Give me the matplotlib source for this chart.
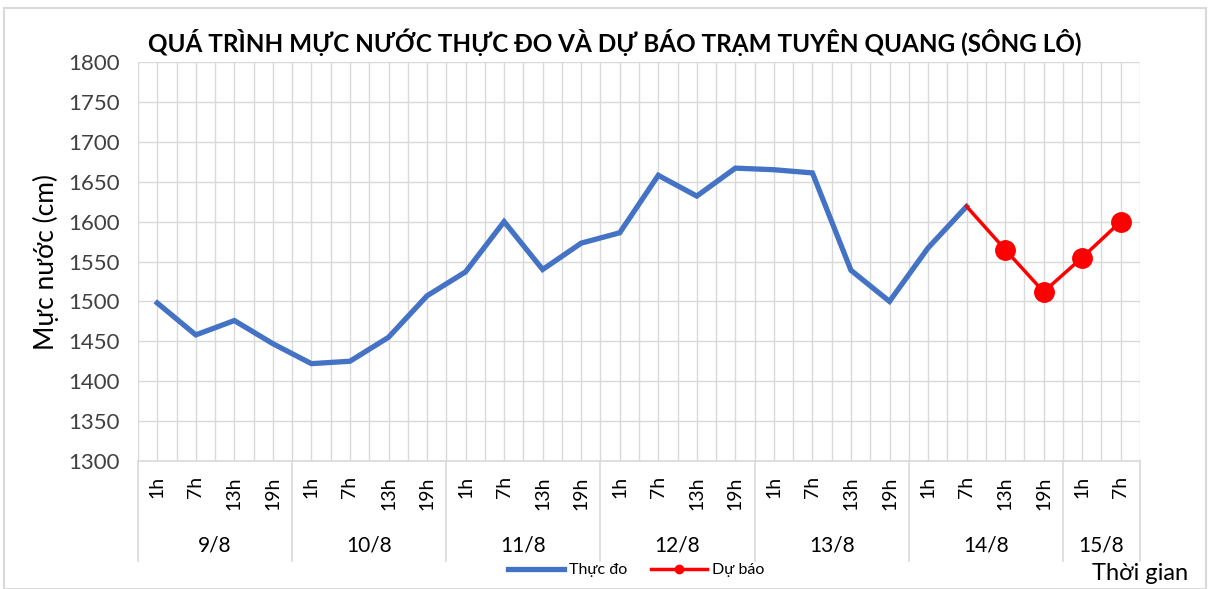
import numpy as np
import matplotlib.pyplot as plt
from matplotlib.patches import Rectangle
from matplotlib.lines import Line2D
import matplotlib.transforms as mtransforms

plt.rcParams['font.family'] = ['Lato', 'DejaVu Sans']

# category axis: hours grouped by day
hours = ["1h", "7h", "13h", "19h"] * 6 + ["1h", "7h"]
days = ["9/8", "10/8", "11/8", "12/8", "13/8", "14/8", "15/8"]
day_sizes = [4, 4, 4, 4, 4, 4, 2]

# observed water level (cm), 9/8 1h .. 14/8 7h
observed = [1498, 1458, 1476, 1447,
            1422, 1425, 1455, 1507,
            1537, 1600, 1540, 1573,
            1586, 1658, 1632, 1667,
            1665, 1661, 1539, 1500,
            1567, 1619]
# forecast, starts at last observed point (14/8 7h)
forecast = [1619, 1565, 1512, 1555, 1600]

n = len(hours)
x = np.arange(n)
x_obs = x[:len(observed)]
x_fc = x[len(observed) - 1:len(observed) - 1 + len(forecast)]

fig = plt.figure(figsize=(12.12, 5.89), dpi=100)
ax = fig.add_axes([138/1212, 128/589, (1140-138)/1212, (461-62)/589])

blue = '#4472C4'
red = '#FF0000'
grid_c = '#d9d9d9'

ax.plot(x_obs, observed, color=blue, lw=3.8, solid_joinstyle='miter', zorder=3)
ax.plot(x_fc, forecast, color=red, lw=2.5, marker='o', markersize=14,
        markevery=list(range(1, len(forecast))), zorder=4)

ax.set_xlim(-0.5, n - 0.5)
ax.set_ylim(1300, 1800)
ax.set_yticks(np.arange(1300, 1801, 50))
ax.set_xticks(x)
ax.set_xticks(np.arange(-0.5, n, 1.0), minor=True)
ax.grid(True, which='major', axis='both', color=grid_c, lw=1.0, zorder=0)
ax.grid(True, which='minor', axis='x', color=grid_c, lw=1.0, zorder=0)
ax.set_axisbelow(True)

for s in ['top', 'right', 'left']:
    ax.spines[s].set_visible(False)
ax.spines['bottom'].set_color(grid_c)
ax.spines['bottom'].set_linewidth(1.2)

ax.tick_params(axis='y', length=0, labelsize=16, colors='#404040', pad=13)
ax.tick_params(axis='x', which='both', length=0)
ax.set_xticklabels(hours, rotation=90, fontsize=14, color='black', va='top')
ax.tick_params(axis='x', pad=11)

# day group labels and separators below the axis
trans = mtransforms.blended_transform_factory(ax.transData, ax.transAxes)
start = -0.5
bounds = [start]
for d, sz in zip(days, day_sizes):
    mid = start + sz / 2
    ax.text(mid, -0.212, d, transform=trans, ha='center', va='center', fontsize=15)
    start += sz
    bounds.append(start)
for b in bounds:
    ax.add_line(Line2D([b, b], [0, -0.25], transform=trans, color=grid_c,
                       lw=1.2, clip_on=False))

ax.set_ylabel('Mực nước (cm)', fontsize=19, labelpad=7)
fig.text(615/1212, 1 - 42/589, 'QUÁ TRÌNH MỰC NƯỚC THỰC ĐO VÀ DỰ BÁO TRẠM TUYÊN QUANG (SÔNG LÔ)',
         ha='center', va='center', fontsize=17.5, fontweight='bold')
fig.text(1140/1212, 1 - 573/589, 'Thời gian', ha='center', va='center', fontsize=17)

leg_handles = [Line2D([], [], color=blue, lw=3.8),
               Line2D([], [], color=red, lw=2.5, marker='o', markersize=6)]
fig.legend(leg_handles, ['Thực đo', 'Dự báo'], loc='center',
           bbox_to_anchor=(636/1212, 1 - 570/589), ncol=2, frameon=False,
           fontsize=11.5, handlelength=3.5, columnspacing=1.5, handletextpad=0.3)

fig.add_artist(Rectangle((4/1212, 0.0), 1202/1212, 1 - 8/589, transform=fig.transFigure,
                         fill=False, edgecolor=grid_c, lw=1.5))

fig.savefig('out.png', dpi=100)
